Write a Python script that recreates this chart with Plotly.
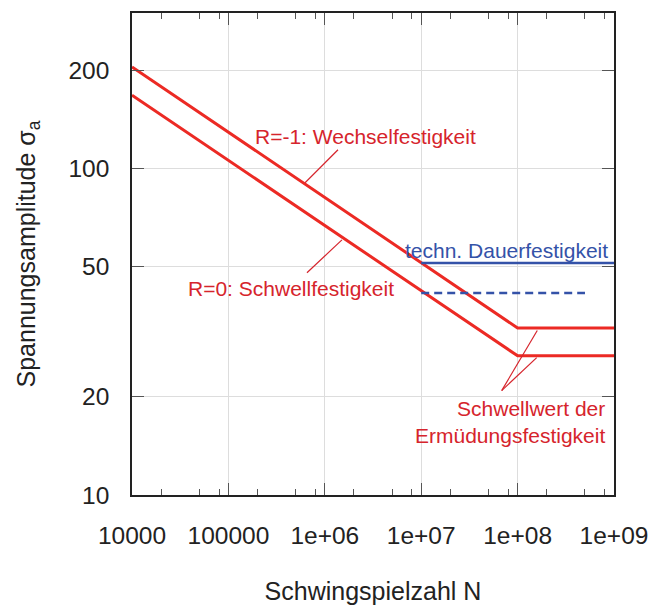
import plotly.graph_objects as go
import numpy as np

# ---- data ----
N_curve = [1e4, 1e8, 1e9]
sigma_R_minus1 = [205, 32.5, 32.5]      # R=-1: Wechselfestigkeit
sigma_R0 = [168, 26.7, 26.7]            # R=0: Schwellfestigkeit
N_dauer = [1e7, 1e9]
sigma_dauer = [51.4, 51.4]              # techn. Dauerfestigkeit
N_dash = [1e7, 5e8]
sigma_dash = [41.6, 41.6]

x_tickvals = [1e4, 1e5, 1e6, 1e7, 1e8, 1e9]
x_ticktext = ["10000", "100000", "1e+06", "1e+07", "1e+08", "1e+09"]
y_tickvals = [10, 20, 50, 100, 200]
y_ticktext = ["10", "20", "50", "100", "200"]
x_minor = [m * 10 ** d for d in range(4, 9) for m in (2, 5, 8)]

# leader lines (annotation pointers) in data values
lead_w_x = [10 ** 5.795, 10 ** 6.137]
lead_w_y = [10 ** 1.957, 10 ** 2.058]
lead_s_x = [10 ** 6.178, 10 ** 5.815]
lead_s_y = [10 ** 1.782, 10 ** 1.681]
lead_e1_x = [10 ** 7.835, 10 ** 8.204]
lead_e1_y = [10 ** 1.320, 10 ** 1.504]
lead_e2_x = [10 ** 7.835, 10 ** 8.198]
lead_e2_y = [10 ** 1.320, 10 ** 1.421]

RED = "rgb(236,42,36)"
TRED = "rgb(214,36,44)"
BLUE = "rgb(52,82,168)"
FONT = "Liberation Sans, Arial, Helvetica, sans-serif"

fig = go.Figure()
fig.add_trace(go.Scatter(x=N_curve, y=sigma_R_minus1, mode="lines",
                         line=dict(color=RED, width=3)))
fig.add_trace(go.Scatter(x=N_curve, y=sigma_R0, mode="lines",
                         line=dict(color=RED, width=3)))
fig.add_trace(go.Scatter(x=N_dauer, y=sigma_dauer, mode="lines",
                         line=dict(color=BLUE, width=2.5)))
fig.add_trace(go.Scatter(x=N_dash, y=sigma_dash, mode="lines",
                         line=dict(color=BLUE, width=2.5, dash="8px,5px")))
for lx, ly in [(lead_w_x, lead_w_y), (lead_s_x, lead_s_y),
               (lead_e1_x, lead_e1_y), (lead_e2_x, lead_e2_y)]:
    fig.add_trace(go.Scatter(x=lx, y=ly, mode="lines",
                             line=dict(color=TRED, width=1.2)))

ann_font = dict(family=FONT, size=21, color=TRED)
fig.add_annotation(x=6.417, y=2.098, text="R=-1: Wechselfestigkeit",
                   showarrow=False, font=ann_font, xanchor="center", yanchor="middle")
fig.add_annotation(x=5.649, y=1.632, text="R=0: Schwellfestigkeit",
                   showarrow=False, font=ann_font, xanchor="center", yanchor="middle")
fig.add_annotation(x=8.959, y=1.748, text="techn. Dauerfestigkeit",
                   showarrow=False, font=dict(family=FONT, size=21, color=BLUE),
                   xanchor="right", yanchor="middle")
fig.add_annotation(x=8.927, y=1.224, text="Schwellwert der<br>Ermüdungsfestigkeit",
                   showarrow=False, font=ann_font, xanchor="right", yanchor="middle",
                   align="right")

axis_common = dict(showline=True, linecolor="#222", linewidth=1.5, mirror="ticks",
                   ticks="inside", tickcolor="#555", tickwidth=1.2,
                   gridcolor="#dddddd", gridwidth=1, zeroline=False,
                   automargin=False, ticklabeloverflow="allow",
                   tickfont=dict(family=FONT, size=24.5, color="#222"))

fig.update_xaxes(type="log", range=[4, 9], tickmode="array", tickvals=x_tickvals,
                 ticktext=x_ticktext, ticklen=12, ticklabelstandoff=18,
                 minor=dict(tickmode="array", tickvals=x_minor, ticks="inside",
                            ticklen=6, tickcolor="#555", showgrid=False),
                 title=dict(text="Schwingspielzahl N", standoff=34,
                            font=dict(family=FONT, size=25, color="#222")),
                 **axis_common)
fig.update_yaxes(type="log", range=[1, np.log10(300)], tickmode="array",
                 tickvals=y_tickvals, ticktext=y_ticktext, ticklen=12,
                 ticklabelstandoff=16,
                 title=dict(text="Spannungsamplitude σ<sub>a</sub>", standoff=26,
                            font=dict(family=FONT, size=25, color="#222")),
                 **axis_common)

fig.update_layout(width=653, height=605, showlegend=False,
                  margin=dict(l=132, r=39, t=13, b=110),
                  plot_bgcolor="white", paper_bgcolor="white")
fig.write_html("out.html", config={"displayModeBar": False},
               post_script="document.body.style.margin='0px';document.body.style.overflow='hidden';")
